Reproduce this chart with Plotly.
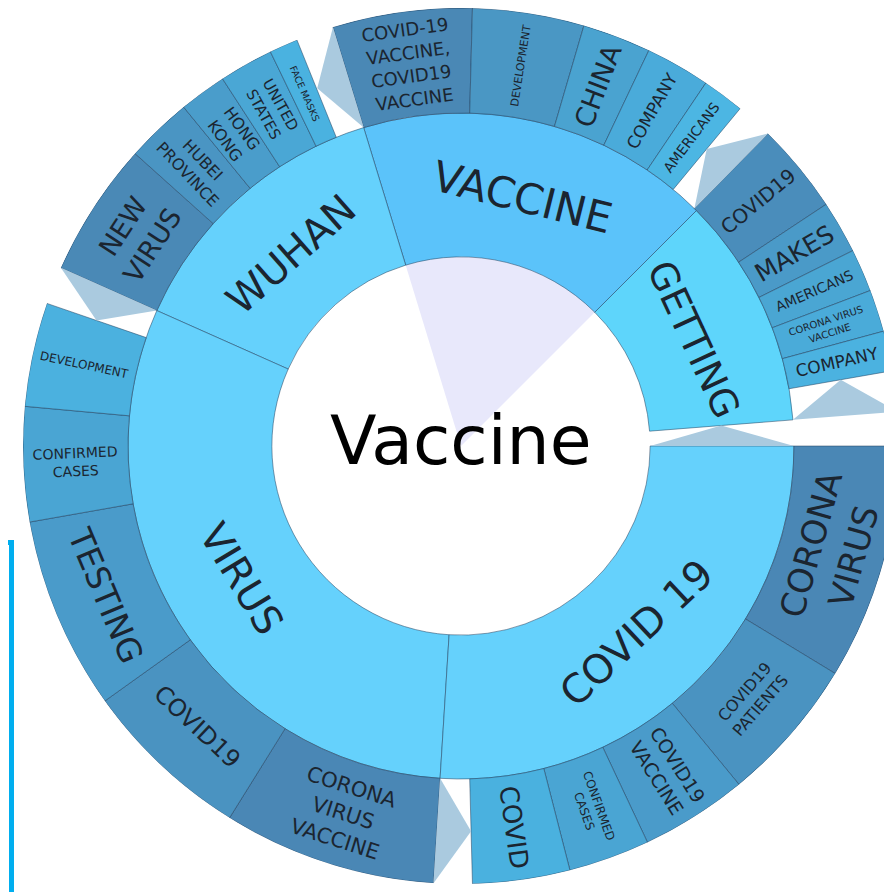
import math
import plotly.graph_objects as go

# ring radii (px-like units on the radial axis)
hole_r, mid_r, out_r = 190, 334.5, 440

# inner ring: children of "Vaccine" (angles in degrees, counterclockwise from 3 o'clock)
inner_labels = ["GETTING", "VACCINE", "WUHAN", "VIRUS", "COVID 19"]
inner_start = [4.5, 45.0, 107.0, 156.0, 266.4]
inner_end = [45.0, 107.0, 156.0, 266.4, 360.0]

# outer ring
outer_labels = [
    "COVID-19<br>VACCINE,<br>COVID19<br>VACCINE", "DEVELOPMENT", "CHINA", "COMPANY", "AMERICANS",
    "COVID19", "MAKES", "AMERICANS", "CORONA VIRUS<br>VACCINE", "COMPANY",
    "CORONA<br>VIRUS", "COVID19<br>PATIENTS", "COVID19<br>VACCINE", "CONFIRMED<br>CASES", "COVID",
    "CORONA<br>VIRUS<br>VACCINE", "COVID19", "TESTING", "CONFIRMED<br>CASES", "DEVELOPMENT",
    "NEW<br>VIRUS", "HUBEI<br>PROVINCE", "HONG<br>KONG", "UNITED<br>STATES", "FACE MASKS",
]
outer_parents = ["VACCINE"] * 5 + ["GETTING"] * 5 + ["COVID 19"] * 5 + ["VIRUS"] * 5 + ["WUHAN"] * 5
outer_start = [88.5, 73.7, 64.6, 56.0, 50.4,
               33.5, 26.5, 20.8, 15.2, 9.9,
               328.7, 309.4, 295.2, 284.4, 271.5,
               238.1, 215.6, 190.0, 174.8, 161.0,
               138.1, 129.3, 123.0, 115.8, 112.0]
outer_end = [107.0, 88.5, 73.7, 64.6, 56.0,
             45.5, 33.5, 26.5, 20.8, 15.2,
             360.0, 328.7, 309.4, 295.2, 284.4,
             266.4, 238.1, 215.6, 190.0, 174.8,
             156.0, 138.1, 129.3, 123.0, 115.8]

# gap wedges left between groups: (ring, edge angle, neighbour edge angle)
gaps = [("outer", 107.0, 111.9), ("outer", 45.5, 50.4), ("outer", 4.5, 9.9),
        ("inner", 360.0, 4.5), ("outer", 266.4, 271.5), ("outer", 156.0, 161.0)]

# styles
inner_colors = ["#5ed5fb", "#5bc3fa", "#65d1fc", "#65d1fc", "#65d1fc"]
outer_colors = ["#4a88b5", "#4a97c4", "#4aa3d0", "#4aabda", "#4cb6e3",
                "#4a8dbb", "#4a9ac8", "#4aa6d3", "#4aabd9", "#4bb2e0",
                "#4a87b5", "#4a93c1", "#4a9bca", "#4aa5d3", "#4ab1df",
                "#4a87b5", "#4a93c1", "#4a9bca", "#4aa5d3", "#4bb1df",
                "#4a89b6", "#4a95c3", "#4a9dcb", "#4aa7d5", "#4ab2e0"]
inner_sizes = [38, 42, 40, 40, 40]
inner_orient = ["t"] * 5
outer_sizes = [18, 11, 27, 17, 14,
               20, 25, 14, 10, 17,
               34, 16, 19, 12, 26,
               21, 24, 33, 14, 12,
               27, 16, 16, 15, 9.5]
outer_orient = ["t", "r", "r", "r", "r",
                "r", "r", "r", "r", "r",
                "t", "t", "r", "r", "r",
                "t", "t", "t", "r", "r",
                "t", "r", "r", "r", "r"]
line_style = dict(color="rgba(35,65,95,0.75)", width=0.7)
font_family = "DejaVu Sans"
text_color = "#1b2530"

W = H = 892
# the page body adds an 8px margin, so figure coords sit 8px up-left of the screen
cx, cy = 453, 438
rad_px = 438
scale = rad_px / out_r  # pixels per radial unit


def mids(start, end):
    return [(s + e) / 2 for s, e in zip(start, end)]


def spans(start, end):
    return [e - s for s, e in zip(start, end)]


fig = go.Figure()

# faint wedge of the root behind the VACCINE slice
vi = inner_labels.index("VACCINE")
fig.add_trace(go.Barpolar(
    r=[hole_r], base=[0], theta=[(inner_start[vi] + inner_end[vi]) / 2],
    width=[inner_end[vi] - inner_start[vi]],
    marker=dict(color="#e8e8fb", line=dict(width=0)), hoverinfo="skip"))

fig.add_trace(go.Barpolar(
    r=[mid_r - hole_r] * len(inner_labels), base=[hole_r] * len(inner_labels),
    theta=mids(inner_start, inner_end), width=spans(inner_start, inner_end),
    marker=dict(color=inner_colors, line=line_style),
    hovertext=inner_labels, hoverinfo="text"))

fig.add_trace(go.Barpolar(
    r=[out_r - mid_r] * len(outer_labels), base=[mid_r] * len(outer_labels),
    theta=mids(outer_start, outer_end), width=spans(outer_start, outer_end),
    marker=dict(color=outer_colors, line=line_style),
    hovertext=outer_labels, hoverinfo="text"))

for ring, edge, other in gaps:
    r0, r1 = (hole_r, mid_r) if ring == "inner" else (mid_r, out_r)
    fig.add_trace(go.Scatterpolar(
        r=[r0, r1, (r0 + r1) / 2, r0], theta=[edge, edge, other, edge],
        mode="lines", fill="toself", fillcolor="#aacadf",
        line=dict(width=0, color="#aacadf"), hoverinfo="skip"))


def text_angle(theta, orient):
    t = theta % 360
    if orient == "t":
        return 90 - t if t <= 180 else 270 - t
    if t <= 90 or t >= 270:
        return -(t if t <= 90 else t - 360)
    return 180 - t


def add_label(text, theta, rad, size, orient):
    a = math.radians(theta)
    px = cx + scale * rad * math.cos(a)
    py = cy - scale * rad * math.sin(a)
    fig.add_annotation(
        x=px / W, y=1 - py / H, xref="paper", yref="paper", text=text,
        xanchor="center", yanchor="middle",
        showarrow=False, textangle=text_angle(theta, orient),
        font=dict(family=font_family, size=size, color=text_color))


for lab, s, e, sz, o in zip(inner_labels, inner_start, inner_end, inner_sizes, inner_orient):
    add_label(lab, (s + e) / 2, (hole_r + mid_r) / 2 - 5, sz, o)
for lab, s, e, sz, o in zip(outer_labels, outer_start, outer_end, outer_sizes, outer_orient):
    add_label(lab, (s + e) / 2, (mid_r + out_r) / 2, sz, o)

fig.add_annotation(x=cx / W, y=1 - (cy - 6) / H, xref="paper", yref="paper",
                   text="Vaccine", showarrow=False, xanchor="center", yanchor="middle",
                   font=dict(family=font_family, size=68, color="black"))

# edge of a neighbouring page box, partly visible at the left
fig.add_shape(type="rect", xref="paper", yref="paper",
              x0=-0.05, x1=3.5 / W, y0=-0.05, y1=1 - 534.5 / H,
              line=dict(color="#00aeef", width=5))

fig.update_layout(
    width=W, height=H, margin=dict(l=0, r=0, t=0, b=0),
    paper_bgcolor="white", showlegend=False,
    polar=dict(
        domain=dict(x=[(cx - rad_px) / W, (cx + rad_px) / W],
                    y=[(H - cy - rad_px) / H, 1]),
        bgcolor="white", barmode="overlay", bargap=0, hole=0,
        radialaxis=dict(visible=False, range=[0, out_r]),
        angularaxis=dict(visible=False, direction="counterclockwise", rotation=0,
                         showgrid=False, showline=False, showticklabels=False, ticks=""),
    ),
)

fig.write_html("out.html")
